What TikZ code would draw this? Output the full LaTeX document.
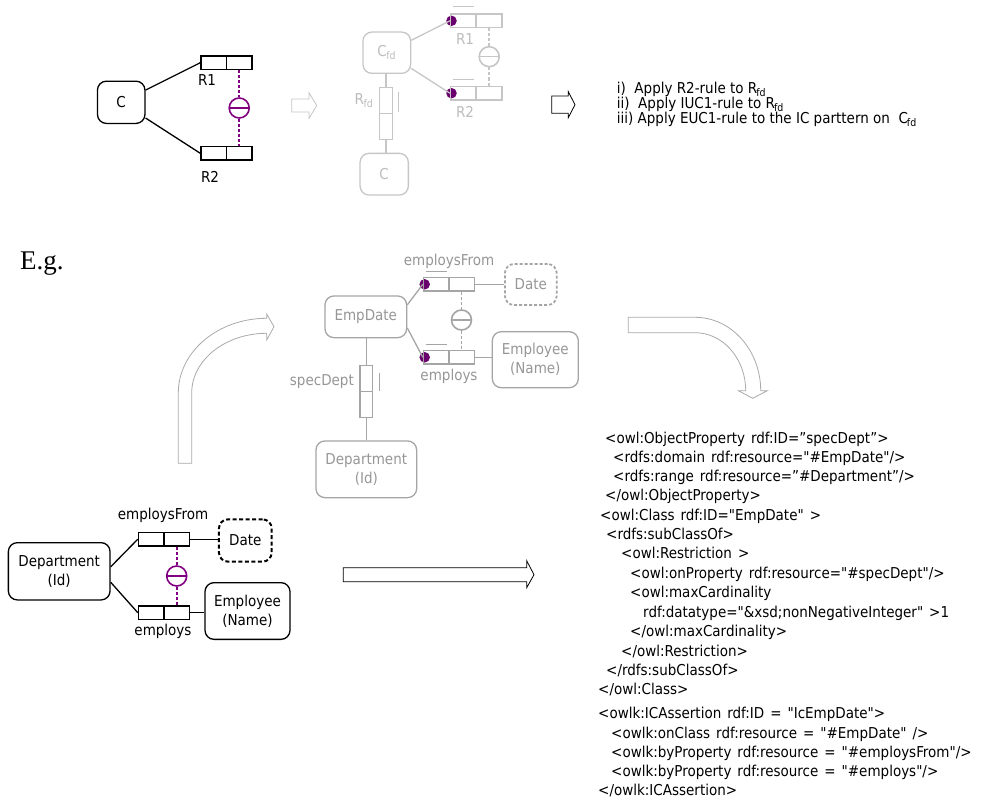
\documentclass[tikz,border=0pt]{standalone}
\usepackage{fontspec}
\setmainfont{DejaVu Sans Condensed}[Ligatures=TeXOff]
\newfontfamily\egfont{Liberation Serif}
\usetikzlibrary{calc}

\definecolor{pp}{RGB}{128,0,128}
\definecolor{ppdot}{RGB}{105,0,110}
\definecolor{ga}{RGB}{198,198,198}
\definecolor{gat}{RGB}{188,188,188}
\definecolor{gb}{RGB}{165,165,165}
\definecolor{gbt}{RGB}{150,150,150}
\definecolor{garr}{RGB}{170,170,170}

\newcommand{\labfont}{\fontsize{15}{19}\selectfont}
\newcommand{\xmlfont}{\fontsize{15}{18}\selectfont\spaceskip=6pt plus 1pt}

\tikzset{
  lab/.style={font=\labfont, inner sep=0},
  cbox/.style={draw, rounded corners=9pt, line width=1.3pt, inner sep=0,
    align=center, font=\labfont},
  cell/.style={draw, line width=1.3pt, inner sep=0,
    minimum width=25.5pt, minimum height=13.3pt},
  vcell/.style={draw, line width=1.3pt, inner sep=0,
    minimum width=12.5pt, minimum height=26pt},
  ucirc/.style={draw=#1, circle, inner sep=0, minimum size=20pt, line width=1.6pt,
    path picture={\draw[#1, line width=1.6pt] (path picture bounding box.west) --
      (path picture bounding box.east);}},
  link/.style={line width=1.3pt},
  pdash/.style={pp, line width=2.4pt, dash pattern=on 3pt off 2pt},
  gdash/.style={line width=1.8pt, dash pattern=on 3pt off 2pt},
  mdot/.style={circle, fill=ppdot, inner sep=0, minimum size=10.5pt},
  hollow/.style={fill=white, line width=0.8pt, line join=miter},
  xml/.style={anchor=base west, inner sep=0, font=\xmlfont},
  rule/.style={anchor=base west, inner sep=0, font=\labfont},
}

\begin{document}
\begin{tikzpicture}[x=1pt,y=-1pt]
\useasboundingbox (0,0) rectangle (985,800);

% ---------------- general pattern: class C with roles R1, R2 and an exclusion
\node[cbox, minimum width=47.5pt, minimum height=42.3pt] (c0) at (121.2,102.3) {C};
\node[cell] (a1) at (213.7,62.7) {};
\node[cell] (a2) at (239.2,62.7) {};
\node[cell] (b1) at (213.7,153.3) {};
\node[cell] (b2) at (239.2,153.3) {};
\node[lab] (la) at (207,80) {R1};
\node[lab] (lb) at (210,176.7) {R2};
\node[ucirc=pp] (u0) at (239.2,108) {};
\draw[link] (c0) -- (a1.west) (c0) -- (b1.west);
\draw[pdash] (a2.south) -- (u0.north) (u0.south) -- (b2.north);

% small transformation arrow
\draw[hollow, draw=ga] (291.7,99) -- (309,99) -- (309,92.7) -- (316.7,105.5)
  -- (309,118.3) -- (309,112) -- (291.7,112) -- cycle;

% ---------------- transformed pattern (faded)
\begin{scope}[draw=ga, text=gat]
\node[mdot] (d1) at (451.5,20.8) {};
\node[mdot] (d2) at (451.5,93.2) {};
\node[cbox, draw=ga, minimum width=47.7pt, minimum height=41.3pt] (cfd) at (386.8,52.7) {C\kern-0.5pt\textsubscript{fd}};
\node[cell, draw=ga] (f1) at (463.3,20.8) {};
\node[cell, draw=ga] (f2) at (489.2,20.8) {};
\node[cell, draw=ga] (g1) at (463.3,93.2) {};
\node[cell, draw=ga] (g2) at (489.2,93.2) {};
\node[lab, text=gat] (lf) at (465,39) {R1};
\node[lab, text=gat] (lg) at (465,111.7) {R2};
\node[ucirc=ga] (u1) at (489.2,56.7) {};
\node[vcell, draw=ga] (h1) at (386,100.3) {};
\node[vcell, draw=ga] (h2) at (386,126.7) {};
\node[lab, text=gat] (lh) at (364,101) {R\kern-0.5pt\textsubscript{fd}};
\node[cbox, draw=ga, text=gat, minimum width=48.3pt, minimum height=41.7pt] (cc) at (384.2,174.2) {C};
\draw[link, ga] (cfd) -- (f1.west) (cfd) -- (g1.west);
\draw[link, ga] (h1.north) -- (h1.north |- cfd.south) (h2.south) -- (h2.south |- cc.north);
\draw[gdash, ga] (f2.south) -- (u1.north) (u1.south) -- (g2.north);
\draw[link, ga] ([xshift=3pt,yshift=6.7pt]f1.north west) -- ([xshift=-3pt,yshift=6.7pt]f1.north east);
\draw[link, ga] ([xshift=3pt,yshift=6.7pt]g1.north west) -- ([xshift=-3pt,yshift=6.7pt]g1.north east);
\draw[link, ga] ([xshift=5.6pt,yshift=-5.7pt]h1.north east) -- ([xshift=5.6pt,yshift=2.3pt]h1.south east);
\end{scope}

% ---------------- rules applied
\draw[hollow, draw=black] (551.7,96) -- (568.3,96) -- (568.3,91.7) -- (575,104.7)
  -- (568.3,117.7) -- (568.3,113.3) -- (551.7,113.3) -- cycle;
\node[rule] (t1) at (616.7,93) {i)\ \ Apply R2-rule to R\kern-1pt\textsubscript{fd}};
\node[rule] (t2) at (616.7,108.3) {ii)\ \ Apply IUC1-rule to R\kern-1pt\textsubscript{fd}};
\node[rule] (t3) at (616.7,123.6) {iii) Apply EUC1-rule to the IC parttern on\ \ C\kern-1pt\textsubscript{fd}};

% ---------------- example
\node[anchor=base west, inner sep=0, font=\egfont\fontsize{27}{30}\selectfont] (eg) at (20,269.3) {E.g.};

% curved arrow up
\draw[hollow, draw=garr] (178.3,463.3) -- (178.3,393)
  .. controls (178.3,351.7) and (217.9,318.3) .. (266.7,318.3)
  -- (266.7,314) -- (274,326.7) -- (266.7,340) -- (266.7,333.3)
  .. controls (225.3,333.3) and (191.7,360) .. (191.7,393)
  -- (191.7,463.3) -- cycle;

% curved arrow down
\draw[hollow, draw=garr] (628.3,317.3) -- (695,317.3)
  .. controls (731.3,317.3) and (760.7,350.2) .. (760.7,390.7)
  -- (767.3,390.7) -- (752.7,398.3) -- (738.3,390.7) -- (745.7,390.7)
  .. controls (745.7,358.7) and (723,332.7) .. (695,332.7)
  -- (628.3,332.7) -- cycle;

% straight arrow
\draw[hollow, draw=black] (343.3,567.7) -- (526.7,567.7) -- (526.7,560.7) -- (534,574.7)
  -- (526.7,587.7) -- (526.7,581.7) -- (343.3,581.7) -- cycle;

% transformed example (grey)
\begin{scope}[draw=gb, text=gbt]
\node[mdot] (e1) at (424.7,284.3) {};
\node[mdot] (e2) at (424.7,357.3) {};
\node[cbox, draw=gb, text=gbt, minimum width=81.7pt, minimum height=41.7pt] (emp) at (365.8,316.8) {EmpDate};
\node[cell, draw=gb] (p1) at (436.2,284.3) {};
\node[cell, draw=gb] (p2) at (461.5,284.3) {};
\node[cell, draw=gb] (q1) at (436.2,357.3) {};
\node[cell, draw=gb] (q2) at (461.5,357.3) {};
\node[lab, text=gbt] (lp) at (449,261.7) {employsFrom};
\node[lab, text=gbt] (lq) at (449,376.7) {employs};
\node[cbox, draw=gb, text=gbt, gdash, minimum width=51.7pt, minimum height=41pt] (gdate) at (530.8,284.5) {Date};
\node[cbox, draw=gb, text=gbt, minimum width=86pt, minimum height=56pt] (gemp) at (535.3,359.7) {Employee\\(Name)};
\node[ucirc=gb] (u2) at (461.5,320) {};
\node[vcell, draw=gb] (s1) at (366.2,378.7) {};
\node[vcell, draw=gb] (s2) at (366.2,404.7) {};
\node[lab, text=gbt, anchor=east] (ls) at (354,381.7) {specDept};
\node[cbox, draw=gb, text=gbt, minimum width=100.7pt, minimum height=56.7pt] (gdep) at (366.3,469.3) {Department\\(Id)};
\draw[link, gb] (emp.16) -- (p1.west) (emp.-15) -- (q1.west);
\draw[link, gb] (p2.east) -- (p2.east -| gdate.west) (q2.east) -- (q2.east -| gemp.west);
\draw[gdash, gb] (p2.south) -- (u2.north) (u2.south) -- (q2.north);
\draw[link, gb] (s1.north) -- (s1.north |- emp.south) (s2.south) -- (s2.south |- gdep.north);
\draw[link, gb] ([xshift=2.7pt,yshift=5.4pt]p1.north west) -- ([xshift=-2.7pt,yshift=5.4pt]p1.north east);
\draw[link, gb] ([xshift=2.7pt,yshift=5.4pt]q1.north west) -- ([xshift=-2.7pt,yshift=5.4pt]q1.north east);
\draw[link, gb] ([xshift=6.7pt,yshift=-7.6pt]s1.north east) -- ([xshift=6.7pt,yshift=1.7pt]s1.south east);
\end{scope}

% source example (black)
\node[cbox, minimum width=101.7pt, minimum height=57.3pt] (dep) at (59.2,571.3) {Department\\(Id)};
\node[cell] (k1) at (151.2,539.2) {};
\node[cell] (k2) at (176.7,539.2) {};
\node[cell] (m1) at (151.2,612.7) {};
\node[cell] (m2) at (176.7,612.7) {};
\node[lab] (lk) at (163,515) {employsFrom};
\node[lab] (lm) at (163,631.7) {employs};
\node[cbox, line width=2pt, dash pattern=on 4pt off 2.5pt, minimum width=52.7pt, minimum height=42.3pt] (date) at (245.3,540.5) {Date};
\node[cbox, minimum width=85pt, minimum height=56.7pt] (empl) at (247.5,611) {Employee\\(Name)};
\node[ucirc=pp] (u3) at (176.7,576) {};
\draw[link] (dep.5) -- (k1.west) (dep.-12) -- (m1.west);
\draw[link] (k2.east) -- (k2.east -| date.west) (m2.east) -- (m2.east -| empl.west);
\draw[pdash] (k2.south) -- (u3.north) (u3.south) -- (m2.north);

% ---------------- OWL listing
\node[xml] (x1)  at (605,443)   {<owl:ObjectProperty rdf:ID=”specDept”>};
\node[xml] (x2)  at (613,462)   {<rdfs:domain rdf:resource="\#EmpDate"/>};
\node[xml] (x3)  at (613,481)   {<rdfs:range rdf:resource=”\#Department”/>};
\node[xml] (x4)  at (605,500)   {</owl:ObjectProperty>};
\node[xml] (x5)  at (600,520)   {<owl:Class rdf:ID="EmpDate" >};
\node[xml] (x6)  at (606,539)   {<rdfs:subClassOf>};
\node[xml] (x7)  at (621,558)   {<owl:Restriction >};
\node[xml] (x8)  at (630,578)   {<owl:onProperty rdf:resource="\#specDept"/>};
\node[xml] (x9)  at (630,597)   {<owl:maxCardinality};
\node[xml] (x10) at (643,617)   {rdf:datatype="\&xsd;nonNegativeInteger" >1};
\node[xml] (x11) at (630,636)   {</owl:maxCardinality>};
\node[xml] (x12) at (621,656)   {</owl:Restriction>};
\node[xml] (x13) at (606,675)   {</rdfs:subClassOf>};
\node[xml] (x14) at (598,694)   {</owl:Class>};
\node[xml] (x15) at (598,718)   {<owlk:ICAssertion rdf:ID = "IcEmpDate">};
\node[xml] (x16) at (611,738)   {<owlk:onClass rdf:resource = "\#EmpDate" />};
\node[xml] (x17) at (611,757)   {<owlk:byProperty rdf:resource = "\#employsFrom"/>};
\node[xml] (x18) at (611,776)   {<owlk:byProperty rdf:resource = "\#employs"/>};
\node[xml] (x19) at (598,795)   {</owlk:ICAssertion>};

\end{tikzpicture}
\end{document}
